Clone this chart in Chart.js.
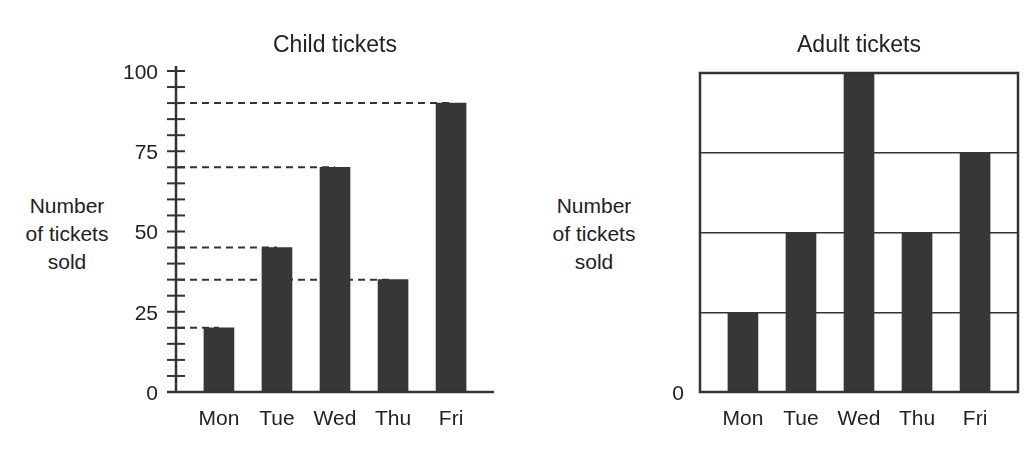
<!DOCTYPE html>
<html>
<head>
<meta charset="utf-8">
<script src="https://cdn.jsdelivr.net/npm/chart.js@4.4.1/dist/chart.umd.min.js"></script>
<style>
html, body { margin: 0; padding: 0; background: #fff; }
#wrap { position: relative; width: 1034px; height: 452px; font-family: "Liberation Sans", Arial, sans-serif; color: #222; }
.panel { position: absolute; top: 0; width: 517px; height: 452px; }
.ylab { position: absolute; top: 192px; width: 120px; font-size: 21px; line-height: 28px; text-align: center; }
</style>
</head>
<body>
<div id="wrap">
  <div class="ylab" style="left:7px">Number<br>of tickets<br>sold</div>
  <div class="ylab" style="left:534px">Number<br>of tickets<br>sold</div>
  <div class="panel" style="left:0"><canvas id="childChart"></canvas></div>
  <div class="panel" style="left:517px"><canvas id="adultChart"></canvas></div>
</div>
<script>
// data
const days = ['Mon', 'Tue', 'Wed', 'Thu', 'Fri'];
const childValues = [20, 45, 70, 35, 90];
const adultValues = [1, 2, 4, 2, 3];   // in grid-line units, the scale has no numbers

const ink = '#333333';
const barColor = '#373737';
const textColor = '#222222';
const fontFamily = "'Liberation Sans', Arial, sans-serif";

Chart.defaults.font.family = fontFamily;
Chart.defaults.color = textColor;

function dayScale() {
    return {
        type: 'linear',
        min: -0.74,
        max: 4.74,
        offset: false,
        afterBuildTicks: s => { s.ticks = days.map((d, i) => ({ value: i })); },
        afterFit: s => { s.height = 50; },
        grid: { display: false, drawTicks: false },
        border: { display: false },
        ticks: {
            padding: 15,
            autoSkip: false,
            maxRotation: 0,
            font: { size: 21 },
            color: textColor,
            callback: v => days[v]
        }
    };
}

// axis with ticks crossing it, plus dashed guides to the bar tops
const childAxes = {
    id: 'childAxes',
    beforeDatasetsDraw(chart) {
        const { ctx, chartArea } = chart;
        const meta = chart.getDatasetMeta(0);
        ctx.save();
        ctx.strokeStyle = ink;
        ctx.lineWidth = 2;
        ctx.setLineDash([7, 5]);
        meta.data.forEach(bar => {
            ctx.beginPath();
            ctx.moveTo(chartArea.left + 2, bar.y);
            ctx.lineTo(bar.x, bar.y);
            ctx.stroke();
        });
        ctx.restore();
    },
    afterDatasetsDraw(chart) {
        const { ctx, chartArea, scales: { y } } = chart;
        const y0 = y.getPixelForValue(0);
        ctx.save();
        ctx.strokeStyle = ink;
        ctx.lineWidth = 2.5;
        ctx.beginPath();
        ctx.moveTo(chartArea.left, chartArea.top - 5);
        ctx.lineTo(chartArea.left, y0);
        ctx.moveTo(chartArea.left - 9, y0);
        ctx.lineTo(chartArea.right, y0);
        ctx.stroke();
        ctx.lineWidth = 2;
        y.ticks.forEach(t => {
            const py = y.getPixelForValue(t.value);
            ctx.beginPath();
            ctx.moveTo(chartArea.left - 9, py);
            ctx.lineTo(chartArea.left + 9, py);
            ctx.stroke();
        });
        ctx.restore();
    }
};

// closed frame round the adult chart
const adultFrame = {
    id: 'adultFrame',
    afterDatasetsDraw(chart) {
        const { ctx, chartArea } = chart;
        ctx.save();
        ctx.strokeStyle = ink;
        ctx.lineWidth = 2.5;
        ctx.strokeRect(chartArea.left, chartArea.top, chartArea.width, chartArea.height);
        ctx.restore();
    }
};

new Chart(document.getElementById('childChart'), {
    type: 'bar',
    data: {
        datasets: [{
            data: childValues.map((v, i) => ({ x: i, y: v })),
            backgroundColor: barColor,
            borderWidth: 0,
            barThickness: 30
        }]
    },
    options: {
        responsive: true,
        maintainAspectRatio: false,
        animation: false,
        layout: { padding: { left: 116, right: 23, top: 20, bottom: 10 } },
        plugins: {
            legend: { display: false },
            tooltip: { enabled: false },
            title: {
                display: true,
                text: 'Child tickets',
                fullSize: false,
                color: textColor,
                font: { size: 23, weight: 'normal' },
                padding: { top: 12, bottom: 11.4 }
            }
        },
        scales: {
            x: dayScale(),
            y: {
                min: 0,
                max: 100,
                afterFit: s => { s.width = 60; },
                grid: { display: false, drawTicks: false },
                border: { display: false },
                ticks: {
                    stepSize: 5,
                    autoSkip: false,
                    padding: 18,
                    labelOffset: 2,
                    font: { size: 21 },
                    color: textColor,
                    callback: v => (v % 25 === 0 ? v : '')
                }
            }
        }
    },
    plugins: [childAxes]
});

new Chart(document.getElementById('adultChart'), {
    type: 'bar',
    data: {
        datasets: [{
            data: adultValues.map((v, i) => ({ x: i, y: v })),
            backgroundColor: barColor,
            borderWidth: 0,
            barThickness: 30
        }]
    },
    options: {
        responsive: true,
        maintainAspectRatio: false,
        animation: false,
        layout: { padding: { left: 123, right: 16, top: 20, bottom: 10 } },
        plugins: {
            legend: { display: false },
            tooltip: { enabled: false },
            title: {
                display: true,
                text: 'Adult tickets',
                fullSize: false,
                color: textColor,
                font: { size: 23, weight: 'normal' },
                padding: { top: 12, bottom: 13.4 }
            }
        },
        scales: {
            x: dayScale(),
            y: {
                min: 0,
                max: 4,
                afterFit: s => { s.width = 60; },
                grid: { display: true, drawTicks: false, color: ink, lineWidth: 1.5 },
                border: { display: false },
                ticks: {
                    stepSize: 1,
                    autoSkip: false,
                    padding: 16,
                    labelOffset: 2,
                    font: { size: 21 },
                    color: textColor,
                    callback: v => (v === 0 ? '0' : '')
                }
            }
        }
    },
    plugins: [adultFrame]
});
</script>
</body>
</html>
